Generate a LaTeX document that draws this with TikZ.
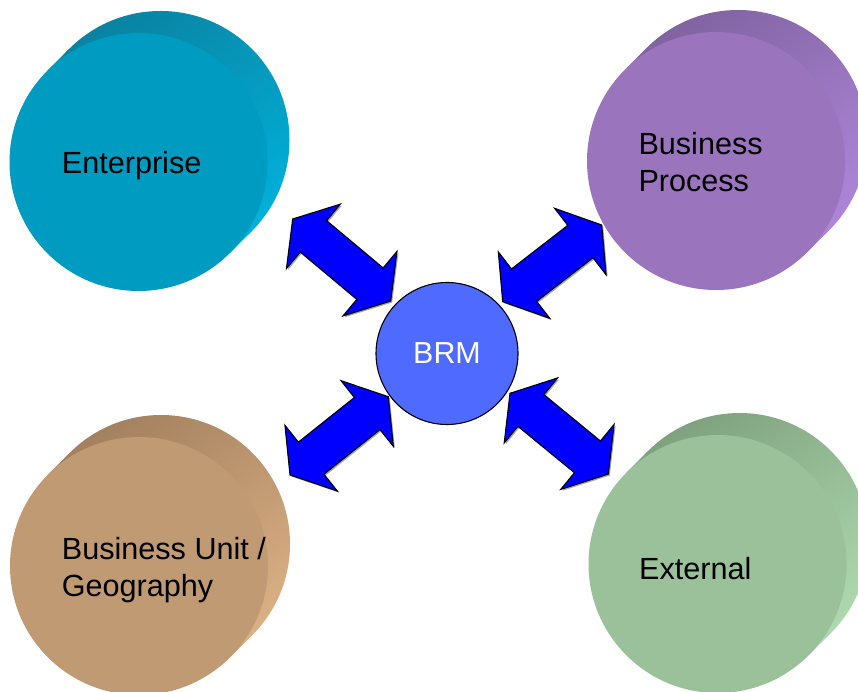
\documentclass[tikz,border=0pt]{standalone}
\usepackage{fontspec}
\setmainfont{Liberation Sans}
\usetikzlibrary{calc,shadows}
\definecolor{entF}{RGB}{0,155,192}
\definecolor{entD}{RGB}{10,126,156}
\definecolor{entL}{RGB}{0,182,224}
\definecolor{bpF}{RGB}{155,116,190}
\definecolor{bpD}{RGB}{124,96,156}
\definecolor{bpL}{RGB}{180,138,224}
\definecolor{buF}{RGB}{192,154,114}
\definecolor{buD}{RGB}{158,124,92}
\definecolor{buL}{RGB}{226,182,136}
\definecolor{exF}{RGB}{154,193,154}
\definecolor{exD}{RGB}{122,156,122}
\definecolor{exL}{RGB}{180,224,180}
\definecolor{brmF}{RGB}{79,107,255}
\definecolor{arrowblue}{RGB}{0,0,255}
\tikzset{
  diskface/.style={circle, inner sep=0pt, minimum size=258pt},
  disklabel/.style={font=\fontsize{30.6}{36.7}\selectfont, align=left, text=black, inner sep=0pt, anchor=base west},
  blockarrow/.style={fill=arrowblue, draw=black, line width=1.1pt, line join=miter,
    drop shadow={shadow xshift=1.5pt, shadow yshift=-1.5pt, opacity=0.35, fill=black}},
  hub/.style={circle, minimum size=142pt, inner sep=0pt, fill=brmF, draw=black, line width=1.1pt,
    text=white, font=\fontsize{30.4}{36}\selectfont},
}
% #1 node name, #2 cx, #3 cy, #4 colour prefix
\newcommand\diskbody[4]{%
  \coordinate (#1c) at (#2,#3);
  \coordinate (#1b) at ({#2+22},{#3-22});
  \begin{scope}
    \clip (#1b) circle[radius=129pt];
    \shade[top color=#4D, bottom color=#4L, shading angle=35]
      ($(#1c)+(-140,-170)$) rectangle ($(#1c)+(170,140)$);
  \end{scope}
  \begin{scope}
    \clip ($(#1c)+(-91.2,-91.2)$) -- ($(#1b)+(-91.2,-91.2)$) -- ($(#1b)+(91.2,91.2)$) -- ($(#1c)+(91.2,91.2)$) -- cycle;
    \shade[top color=#4D, bottom color=#4L, shading angle=35]
      ($(#1c)+(-140,-170)$) rectangle ($(#1c)+(170,140)$);
  \end{scope}
  \node[diskface, fill=#4F] (#1) at (#1c) {};
}
% double block arrow between two named tips
\newcommand\dblarrow[2]{%
  \path ($(#1)!27pt!(#2)$) coordinate (#1h) ($(#2)!27pt!(#1)$) coordinate (#2h);
  \draw[blockarrow] (#1) -- ($(#1h)!42pt!90:(#2)$) -- ($(#1h)!20.5pt!90:(#2)$)
    -- ($(#2h)!20.5pt!-90:(#1)$) -- ($(#2h)!42pt!-90:(#1)$) -- (#2)
    -- ($(#2h)!42pt!90:(#1)$) -- ($(#2h)!20.5pt!90:(#1)$)
    -- ($(#1h)!20.5pt!-90:(#2)$) -- ($(#1h)!42pt!-90:(#2)$) -- cycle;
}
\begin{document}
\begin{tikzpicture}[x=1pt,y=-1pt]
\clip (0,0) rectangle (858,692);
\fill[white] (0,0) rectangle (858,692);

\diskbody{ent}{138.5}{162}{ent}
\diskbody{bp}{716}{161}{bp}
\diskbody{bu}{139}{566}{bu}
\diskbody{ex}{717.5}{564}{ex}

\node[disklabel] (entlbl) at (61.7,173.3) {Enterprise};
\node[disklabel] (bplbl) at (638.3,191.7) {Business\\Process};
\node[disklabel] (bulbl) at (61.7,596) {Business Unit /\\Geography};
\node[disklabel] (exlbl) at (639,579.3) {External};

\node[hub] (brm) at (447,353.5) {BRM};

\coordinate (ulA) at (292.7,219);   \coordinate (ulB) at (390.7,301);
\coordinate (urA) at (601.7,225);   \coordinate (urB) at (502.7,301.7);
\coordinate (llA) at (290,475);     \coordinate (llB) at (388.3,396.7);
\coordinate (lrA) at (608.3,474);   \coordinate (lrB) at (510,393.3);

\dblarrow{ulA}{ulB}
\dblarrow{urA}{urB}
\dblarrow{llA}{llB}
\dblarrow{lrA}{lrB}
\end{tikzpicture}
\end{document}
